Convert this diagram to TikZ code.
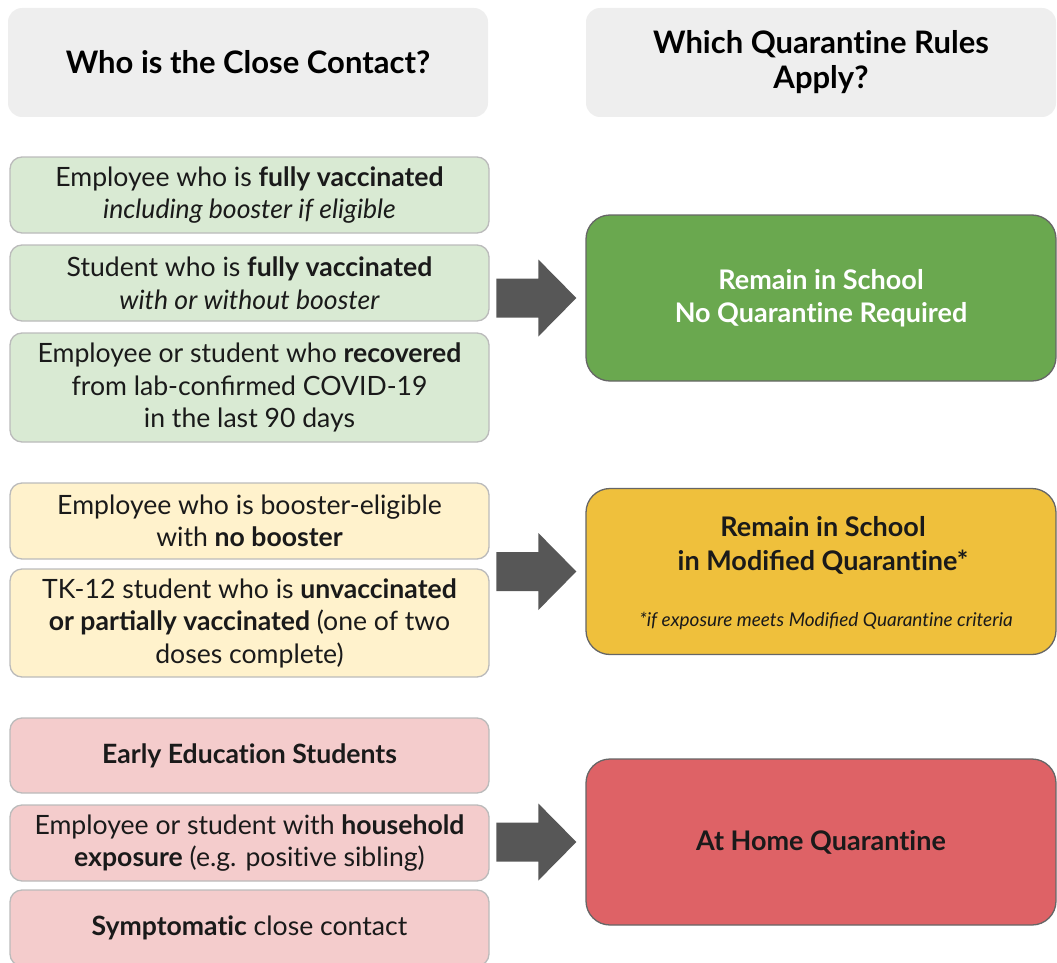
\documentclass[tikz,border=0pt]{standalone}
\usepackage{fontspec}
\setmainfont{Lato}
\usetikzlibrary{calc}
\newcommand\tIx{t\kern0pt i}
\definecolor{hdrc}{HTML}{EEEEEE}
\definecolor{lgreen}{HTML}{D9EAD3}
\definecolor{lyellow}{HTML}{FFF2CC}
\definecolor{lred}{HTML}{F4CCCC}
\definecolor{dgreen}{HTML}{6AA84F}
\definecolor{dyellow}{HTML}{EFC03C}
\definecolor{dred}{HTML}{DE6266}
\definecolor{arrowc}{HTML}{575757}
\definecolor{lborder}{HTML}{BBBBBB}
\definecolor{rborder}{HTML}{666666}
\definecolor{txt}{HTML}{1A1A1A}
\tikzset{
  hdr/.style={fill=hdrc, rounded corners=14pt, minimum width=480pt, minimum height=109pt, inner sep=0pt, align=center, text=black, font=\fontsize{31}{35}\selectfont\bfseries},
  lbox/.style={draw=lborder, line width=1.3pt, rounded corners=12pt, minimum width=479pt, inner sep=0pt, align=center, text=txt, font=\fontsize{26.6}{32.5}\selectfont},
  lg/.style={lbox, fill=lgreen},
  ly/.style={lbox, fill=lyellow},
  lr/.style={lbox, fill=lred},
  rbox/.style={draw=rborder, line width=1.3pt, rounded corners=24pt, minimum width=470pt, minimum height=166pt, inner sep=0pt, align=center, font=\fontsize{27}{33}\selectfont\bfseries},
  rtext/.style={inner sep=0pt, align=center, font=\fontsize{27}{34}\selectfont\bfseries, text=txt},
  note/.style={inner sep=0pt, font=\fontsize{19}{22}\selectfont\itshape, text=txt},
}
\newcommand\blockarrow[1]{%
  \fill[arrowc] ([xshift=-89pt,yshift=19.5pt]#1.west) -- ([xshift=-47pt,yshift=19.5pt]#1.west)
    -- ([xshift=-47pt,yshift=38.5pt]#1.west) -- ([xshift=-9pt]#1.west)
    -- ([xshift=-47pt,yshift=-38.5pt]#1.west) -- ([xshift=-47pt,yshift=-19.5pt]#1.west)
    -- ([xshift=-89pt,yshift=-19.5pt]#1.west) -- cycle;}
\begin{document}
\begin{tikzpicture}[x=1pt,y=-1pt]
\useasboundingbox (0,0) rectangle (1057,963);
\clip (0,0) rectangle (1057,963);
% headers
\node[hdr] (hl) at (248,62.5) {Who is the Close Contact?};
\node[hdr, minimum width=470pt] (hr) at (821,62.5) {Which Quaran\tIx ne Rules\\Apply?};
% green group
\node[lg, minimum height=76pt] (g1) at (249.5,195) {Employee who is \textbf{fully vaccinated}\\\textit{including booster if eligible}};
\node[lg, minimum height=76pt] (g2) at (249.5,283) {Student who is \textbf{fully vaccinated}\\\textit{with or without booster}};
\node[lg, minimum height=109pt] (g3) at (249.5,387.5) {Employee or student who \textbf{recovered}\\from lab-confirmed COVID-19\\in the last 90 days};
% yellow group
\node[ly, minimum height=76pt] (y1) at (249.5,521) {Employee who is booster-eligible\\with \textbf{no booster}};
\node[ly, minimum height=108pt] (y2) at (249.5,623) {TK-12 student who is \textbf{unvaccinated}\\\textbf{or partially vaccinated} (one of two\\doses complete)};
% red group
\node[lr, minimum height=75pt] (r1) at (249.5,755.5) {\textbf{Early Educa\tIx on Students}};
\node[lr, minimum height=76pt] (r2) at (249.5,843) {Employee or student with \textbf{household}\\\textbf{exposure} (e.g. posi\tIx ve sibling)};
\node[lr, minimum height=76pt] (r3) at (249.5,928) {\textbf{Symptoma\tIx c} close contact};
% right boxes
\node[rbox, fill=dgreen, text=white] (rg) at (821,298) {Remain in School\\No Quaran\tIx ne Required};
\node[rbox, fill=dyellow] (ry) at (821,571.5) {};
\node[rtext] (rytxt) at (823,545) {Remain in School\\in Modified Quaran\tIx ne*};
\node[note] (rynote) at (826,621) {*if exposure meets Modified Quaran\tIx ne criteria};
\node[rbox, fill=dred, text=txt] (rr) at (821,842) {At Home Quaran\tIx ne};
% arrows
\blockarrow{rg}
\blockarrow{ry}
\blockarrow{rr}
\end{tikzpicture}
\end{document}
